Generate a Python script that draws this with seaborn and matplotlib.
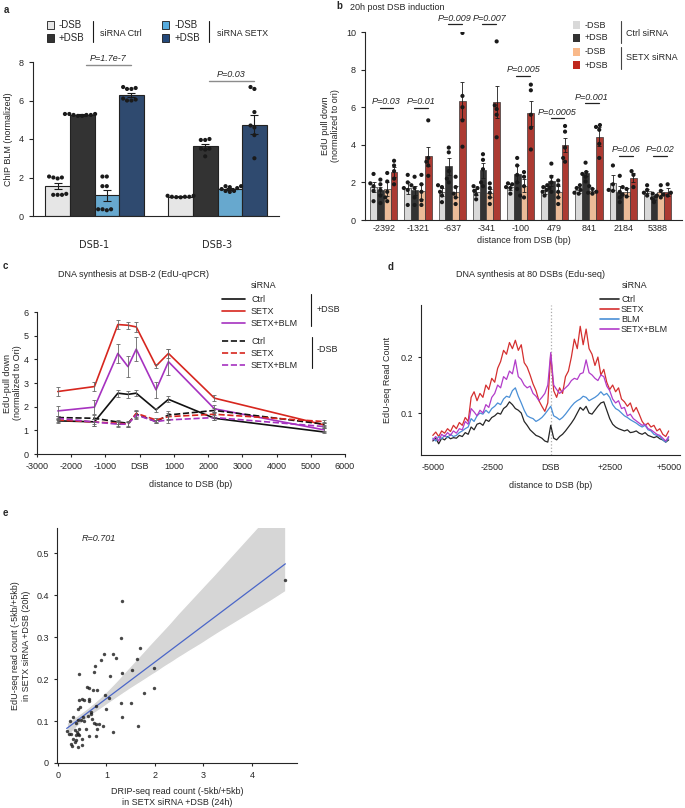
import numpy as np
import pandas as pd
import matplotlib
matplotlib.use('Agg')
import matplotlib.pyplot as plt
import seaborn as sns
from matplotlib.patches import Rectangle
from matplotlib.lines import Line2D
from matplotlib.collections import PolyCollection

sns.set_theme(style='ticks')
plt.rcParams['font.family'] = ['Liberation Sans', 'DejaVu Sans']
plt.rcParams['font.size'] = 6.5
plt.rcParams['axes.linewidth'] = 0.8
plt.rcParams['xtick.labelsize'] = 6.5
plt.rcParams['ytick.labelsize'] = 6.5
plt.rcParams['axes.labelsize'] = 6.5

# ---------------- panel a data
a_sites = ['DSB-1', 'DSB-3']
a_conds = ['Ctrl -DSB', 'Ctrl +DSB', 'SETX -DSB', 'SETX +DSB']
a_colors = ['#e6e6e6', '#333333', '#56acdf', '#24497a']
a_mean_dsb1 = [1.55, 5.25, 1.07, 6.3]
a_mean_dsb3 = [1.0, 3.62, 1.38, 4.75]
a_sem_dsb1 = [0.15, 0.05, 0.3, 0.1]
a_sem_dsb3 = [0.02, 0.12, 0.05, 0.5]
a_pts_dsb1 = [[2.0, 2.05, 1.95, 2.0, 1.1, 1.1, 1.15, 1.1],
              [5.3, 5.25, 5.3, 5.2, 5.25, 5.3, 5.2, 5.25],
              [2.05, 2.05, 1.55, 1.55, 0.35, 0.35, 0.3, 0.35],
              [6.6, 6.6, 6.65, 6.7, 6.1, 6.0, 6.0, 6.05]]
a_pts_dsb3 = [[1.05, 1.05, 1.0, 1.0, 0.98, 0.97, 1.0],
              [4.0, 3.95, 3.95, 3.5, 3.5, 3.45, 3.1],
              [1.55, 1.5, 1.45, 1.3, 1.25, 1.3, 1.4, 1.55],
              [6.6, 6.7, 5.4, 4.6, 4.7, 4.2, 3.0]]
a_pvals = ['P=1.7e-7', 'P=0.03']

# ---------------- panel b data
b_pos = ['-2392', '-1321', '-637', '-341', '-100', '479', '841', '2184', '5388']
b_conds = ['Ctrl -DSB', 'Ctrl +DSB', 'SETX -DSB', 'SETX +DSB']
b_colors = ['#d9d9d9', '#333333', '#f9b98a', '#c0281e']
b_ctrl_minus = [1.75, 1.7, 1.48, 1.5, 1.74, 1.6, 1.6, 1.99, 1.54]
b_ctrl_plus = [1.57, 1.57, 2.85, 2.64, 2.45, 2.1, 2.48, 1.5, 1.19]
b_setx_minus = [1.65, 1.53, 1.5, 1.43, 1.83, 1.5, 1.56, 1.5, 1.47]
b_setx_plus = [2.55, 3.39, 6.35, 6.3, 5.67, 3.99, 4.43, 2.25, 1.5]
b_sem_ctrl_minus = [0.25, 0.3, 0.2, 0.15, 0.15, 0.2, 0.15, 0.4, 0.1]
b_sem_ctrl_plus = [0.2, 0.25, 0.45, 0.4, 0.45, 0.3, 0.15, 0.3, 0.1]
b_sem_setx_minus = [0.35, 0.4, 0.3, 0.2, 0.35, 0.3, 0.15, 0.2, 0.15]
b_sem_setx_plus = [0.25, 0.5, 1.0, 0.85, 0.65, 0.35, 0.5, 0.25, 0.2]
b_pts_ctrl_minus = [[2.45, 1.95, 1.8, 1.55, 1.0], [2.4, 2.0, 1.7, 1.6, 0.8], [1.85, 1.75, 1.5, 1.3, 0.95],
                    [1.8, 1.7, 1.55, 1.35, 1.1], [1.95, 1.9, 1.75, 1.7, 1.4], [1.85, 1.75, 1.6, 1.5, 1.3],
                    [1.85, 1.7, 1.6, 1.45, 1.4], [2.9, 1.9, 1.6, 1.55], [1.85, 1.6, 1.45, 1.3]]
b_pts_ctrl_plus = [[2.15, 1.9, 1.6, 1.3, 0.9], [2.3, 1.85, 1.7, 1.2, 0.8], [3.85, 3.6, 2.6, 2.0, 2.2],
                   [3.5, 3.2, 2.7, 2.0, 1.8], [3.3, 2.9, 2.4, 2.0, 1.65], [3.0, 2.3, 2.0, 1.7, 1.5],
                   [3.05, 2.55, 2.45, 2.3, 2.05], [2.35, 1.5, 1.2, 0.95], [1.4, 1.25, 1.15, 0.95]]
b_pts_setx_minus = [[2.5, 2.05, 1.5, 1.2, 1.0], [2.4, 1.9, 1.5, 1.05, 0.8], [2.3, 1.75, 1.4, 1.2, 0.85],
                    [1.95, 1.7, 1.45, 1.2, 0.85], [2.55, 2.3, 1.8, 1.3, 1.2], [2.1, 1.85, 1.5, 1.2, 0.85],
                    [1.8, 1.65, 1.5, 1.45, 1.4], [1.75, 1.65, 1.35, 1.25], [1.85, 1.55, 1.3, 1.2]]
b_pts_setx_plus = [[3.15, 2.9, 2.6, 2.2, 1.9], [5.3, 3.3, 3.1, 2.9, 2.35], [9.95, 6.6, 6.0, 5.3, 3.9],
                   [9.5, 6.1, 5.9, 5.6, 4.4], [7.2, 6.9, 5.6, 4.9, 3.75], [5.0, 4.7, 3.85, 3.3, 3.1],
                   [5.05, 4.95, 4.8, 4.05, 3.3], [2.6, 2.4, 1.75], [1.9, 1.45, 1.35, 1.3]]
b_pvals = ['P=0.03', 'P=0.01', 'P=0.009', 'P=0.007', 'P=0.005', 'P=0.0005', 'P=0.001', 'P=0.06', 'P=0.02']

# ---------------- panel c data (EdU-qPCR)
c_dist = [-2392, -1321, -637, -341, -100, 479, 841, 2184, 5388]
c_ctrl_plus = [1.40, 1.36, 2.57, 2.52, 2.57, 1.87, 2.31, 1.51, 0.93]
c_setx_plus = [2.64, 2.85, 5.47, 5.44, 5.37, 3.72, 4.25, 2.36, 1.23]
c_setxblm_plus = [1.82, 1.98, 4.25, 3.69, 4.43, 2.71, 3.90, 1.91, 1.02]
c_ctrl_minus = [1.54, 1.51, 1.35, 1.30, 1.68, 1.37, 1.65, 1.84, 1.26]
c_setx_minus = [1.44, 1.35, 1.30, 1.26, 1.72, 1.44, 1.58, 1.68, 1.37]
c_setxblm_minus = [1.51, 1.35, 1.26, 1.26, 1.65, 1.37, 1.44, 1.54, 1.16]
c_err_ctrl_plus = [0.08, 0.1, 0.15, 0.15, 0.12, 0.08, 0.12, 0.06, 0.05]
c_err_setx_plus = [0.18, 0.18, 0.2, 0.15, 0.2, 0.1, 0.2, 0.12, 0.1]
c_err_setxblm_plus = [0.2, 0.3, 0.4, 0.45, 0.5, 0.35, 0.55, 0.15, 0.08]
c_err_minus = [0.08, 0.15, 0.1, 0.1, 0.15, 0.08, 0.15, 0.1, 0.08]

# ---------------- panel d data (EdU-seq, 125 bp bins)
d_bins = np.arange(-5000, 5001, 125)
d_ctrl = [0.050, 0.055, 0.045, 0.055, 0.052, 0.058, 0.054, 0.056, 0.055, 0.060, 0.058, 0.065, 0.062,
          0.075, 0.070, 0.080, 0.082, 0.078, 0.088, 0.085, 0.092, 0.095, 0.100, 0.098, 0.108,
          0.112, 0.120, 0.115, 0.108, 0.105, 0.100, 0.085, 0.078, 0.070, 0.065, 0.060, 0.058,
          0.055, 0.050, 0.048, 0.078, 0.055, 0.052, 0.058, 0.062, 0.068, 0.075, 0.082, 0.090,
          0.100, 0.110, 0.105, 0.112, 0.100, 0.098, 0.105, 0.112, 0.118, 0.120, 0.105, 0.090,
          0.080, 0.075, 0.072, 0.070, 0.068, 0.070, 0.065, 0.066, 0.068, 0.064, 0.062, 0.065,
          0.060, 0.058, 0.056, 0.058, 0.054, 0.052, 0.048, 0.052]
d_setx = [0.060, 0.066, 0.058, 0.068, 0.064, 0.072, 0.067, 0.078, 0.072, 0.083, 0.078, 0.092, 0.085,
          0.128, 0.138, 0.122, 0.135, 0.128, 0.150, 0.142, 0.162, 0.155, 0.180, 0.192, 0.212,
          0.205, 0.226, 0.215, 0.230, 0.212, 0.222, 0.190, 0.182, 0.168, 0.152, 0.140, 0.122,
          0.112, 0.103, 0.118, 0.205, 0.140, 0.128, 0.145, 0.135, 0.165, 0.175, 0.200, 0.232,
          0.215, 0.255, 0.222, 0.250, 0.215, 0.205, 0.185, 0.200, 0.168, 0.178, 0.155, 0.142,
          0.150, 0.138, 0.145, 0.125, 0.120, 0.112, 0.118, 0.102, 0.110, 0.098, 0.085, 0.078,
          0.082, 0.075, 0.078, 0.068, 0.072, 0.062, 0.058, 0.068]
d_blm = [0.055, 0.050, 0.058, 0.054, 0.060, 0.056, 0.062, 0.058, 0.060, 0.065, 0.068, 0.072, 0.075,
         0.090, 0.085, 0.095, 0.100, 0.098, 0.105, 0.100, 0.108, 0.112, 0.118, 0.115, 0.125,
         0.130, 0.128, 0.140, 0.145, 0.130, 0.118, 0.105, 0.095, 0.092, 0.090, 0.085, 0.088,
         0.092, 0.098, 0.105, 0.112, 0.095, 0.092, 0.088, 0.092, 0.098, 0.105, 0.112, 0.118,
         0.122, 0.125, 0.130, 0.128, 0.122, 0.125, 0.128, 0.132, 0.138, 0.132, 0.135, 0.128,
         0.115, 0.108, 0.105, 0.100, 0.095, 0.092, 0.088, 0.085, 0.082, 0.078, 0.075, 0.078,
         0.070, 0.068, 0.062, 0.060, 0.058, 0.052, 0.048, 0.056]
d_setxblm = [0.052, 0.058, 0.050, 0.062, 0.058, 0.065, 0.060, 0.068, 0.064, 0.072, 0.070, 0.085, 0.080,
             0.108, 0.102, 0.095, 0.105, 0.100, 0.115, 0.110, 0.128, 0.135, 0.150, 0.145, 0.165,
             0.160, 0.175, 0.170, 0.195, 0.165, 0.160, 0.150, 0.145, 0.148, 0.135, 0.130, 0.122,
             0.128, 0.135, 0.150, 0.208, 0.150, 0.142, 0.135, 0.140, 0.145, 0.150, 0.158, 0.162,
             0.160, 0.170, 0.172, 0.195, 0.172, 0.168, 0.162, 0.158, 0.168, 0.165, 0.148, 0.140,
             0.125, 0.118, 0.122, 0.108, 0.110, 0.095, 0.098, 0.090, 0.086, 0.082, 0.078, 0.080,
             0.072, 0.070, 0.066, 0.062, 0.060, 0.055, 0.050, 0.058]

# ---------------- panel e data (per DSB)
e_drip = [1.33, 4.69, 1.29, 0.94, 1.13, 1.19, 1.69, 0.88, 1.62, 0.76, 0.44, 0.74, 1.08, 1.32, 1.53,
          1.98, 0.59, 0.63, 0.72, 0.80, 1.98, 1.78, 0.98, 1.06, 0.50, 0.54, 0.44, 0.65, 0.65, 0.46,
          0.42, 0.78, 1.29, 1.50, 0.99, 0.68, 0.69, 0.51, 0.31, 0.41, 0.25, 0.48, 0.54, 0.38, 0.70,
          0.61, 0.74, 0.78, 0.85, 0.92, 1.33, 1.66, 0.57, 0.80, 0.18, 0.27, 0.35, 0.44, 0.40, 1.14,
          0.42, 0.38, 0.44, 0.23, 0.65, 0.78, 0.32, 0.38, 0.27, 0.29, 0.50, 0.36, 0.42, 0.49]
e_edu = [0.385, 0.437, 0.298, 0.260, 0.260, 0.250, 0.273, 0.246, 0.249, 0.230, 0.213, 0.216, 0.208,
         0.215, 0.222, 0.227, 0.180, 0.178, 0.175, 0.174, 0.178, 0.168, 0.162, 0.155, 0.153, 0.150,
         0.149, 0.153, 0.147, 0.134, 0.129, 0.137, 0.143, 0.142, 0.128, 0.121, 0.117, 0.109, 0.109,
         0.103, 0.099, 0.102, 0.100, 0.096, 0.106, 0.113, 0.095, 0.094, 0.092, 0.088, 0.109, 0.088,
         0.082, 0.082, 0.076, 0.070, 0.078, 0.080, 0.074, 0.074, 0.068, 0.066, 0.066, 0.068, 0.064,
         0.064, 0.057, 0.056, 0.045, 0.041, 0.044, 0.050, 0.037, 0.058]

W, H = 685, 808
fig = plt.figure(figsize=(6.85, 8.08), dpi=100)


def rect(x0, y0, x1, y1):
    return [x0 / W, 1 - y1 / H, (x1 - x0) / W, (y1 - y0) / H]


def fx(x):
    return x / W


def fy(y):
    return 1 - y / H


def ftext(x, y, s, **kw):
    kw.setdefault('va', 'center')
    fig.text(fx(x), fy(y), s, **kw)


def fsquare(x, y, color, edge='none'):
    fig.add_artist(Rectangle((fx(x - 3.5), fy(y + 3.5)), 7 / W, 7 / H, transform=fig.transFigure,
                             facecolor=color, edgecolor=edge, lw=0.6))


def fline(x0, y0, x1, y1, **kw):
    fig.add_artist(Line2D([fx(x0), fx(x1)], [fy(y0), fy(y1)], transform=fig.transFigure, **kw))


offsets = [-0.3, -0.1, 0.1, 0.3]

# ================= panel a
ax_a = fig.add_axes(rect(33, 62, 279, 216))
df_a = pd.DataFrame({'site': np.repeat(a_sites, 4), 'cond': a_conds * 2,
                     'val': a_mean_dsb1 + a_mean_dsb3})
sns.barplot(data=df_a, x='site', y='val', hue='cond', order=a_sites, hue_order=a_conds,
            palette=a_colors, errorbar=None, edgecolor='#222222', linewidth=0.8,
            legend=False, ax=ax_a)
for i, (means, sems) in enumerate([(a_mean_dsb1, a_sem_dsb1), (a_mean_dsb3, a_sem_dsb3)]):
    ax_a.errorbar([i + o for o in offsets], means, yerr=sems, fmt='none', ecolor='k',
                  elinewidth=0.8, capsize=3, capthick=0.8, zorder=3)
pts_a = pd.DataFrame([(s, c, v) for s, pts in zip(a_sites, [a_pts_dsb1, a_pts_dsb3])
                      for c, vals in zip(a_conds, pts) for v in vals], columns=['site', 'cond', 'val'])
sns.swarmplot(data=pts_a, x='site', y='val', hue='cond', order=a_sites, hue_order=a_conds,
              dodge=True, palette=['k'] * 4, size=3.0, legend=False, ax=ax_a, zorder=4,
              warn_thresh=1)
ax_a.set_xlim(-0.5, 1.5)
ax_a.set_ylim(0, 8)
ax_a.set_yticks([0, 2, 4, 6, 8])
ax_a.set_xlabel('')
ax_a.set_ylabel('ChIP BLM (normalized)')
ax_a.tick_params(axis='x', length=0, pad=17)
ax_a.tick_params(axis='y', length=3, width=0.8)
for lab in ax_a.get_xticklabels():
    lab.set_fontfamily('DejaVu Sans')
    lab.set_fontsize(7)
sns.despine(ax=ax_a)
for i, (txt, h) in enumerate(zip(a_pvals, [7.85, 7.0])):
    ax_a.plot([i - 0.07, i + 0.3], [h, h], color='#8c8c8c', lw=1.0, clip_on=False)
    ax_a.text(i + 0.11, h + 0.12, txt, ha='center', va='bottom', style='italic', fontsize=6.5)

ftext(4, 10, 'a', fontweight='bold', fontsize=7)
fsquare(50, 25, a_colors[0], 'k')
fsquare(50, 38, a_colors[1], 'k')
ftext(59, 25, '-DSB', fontsize=7)
ftext(59, 38, '+DSB', fontsize=7)
fline(93, 21, 93, 42, color='k', lw=0.8)
ftext(100, 33, 'siRNA Ctrl', fontsize=6.5)
fsquare(165, 25, a_colors[2], 'k')
fsquare(165, 38, a_colors[3], 'k')
ftext(175, 25, '-DSB', fontsize=7)
ftext(175, 38, '+DSB', fontsize=7)
fline(209, 21, 209, 42, color='k', lw=0.8)
ftext(217, 33, 'siRNA SETX', fontsize=6.5)

# ================= panel b
ax_b = fig.add_axes(rect(365, 32, 682, 220))
b_means = [b_ctrl_minus, b_ctrl_plus, b_setx_minus, b_setx_plus]
b_sems = [b_sem_ctrl_minus, b_sem_ctrl_plus, b_sem_setx_minus, b_sem_setx_plus]
b_pts = [b_pts_ctrl_minus, b_pts_ctrl_plus, b_pts_setx_minus, b_pts_setx_plus]
df_b = pd.DataFrame([(p, c, m[k]) for c, m in zip(b_conds, b_means) for k, p in enumerate(b_pos)],
                    columns=['pos', 'cond', 'val'])
sns.barplot(data=df_b, x='pos', y='val', hue='cond', order=b_pos, hue_order=b_conds,
            palette=b_colors, errorbar=None, edgecolor='#3a3a3a', linewidth=0.5,
            legend=False, ax=ax_b)
for j, (m, s) in enumerate(zip(b_means, b_sems)):
    ax_b.errorbar([k + offsets[j] for k in range(len(b_pos))], m, yerr=s, fmt='none', ecolor='k',
                  elinewidth=0.6, capsize=1.3, capthick=0.6, zorder=3)
pts_b = pd.DataFrame([(p, c, v) for c, pts in zip(b_conds, b_pts) for p, vals in zip(b_pos, pts)
                      for v in vals], columns=['pos', 'cond', 'val'])
sns.swarmplot(data=pts_b, x='pos', y='val', hue='cond', order=b_pos, hue_order=b_conds,
              dodge=True, palette=['k'] * 4, size=3.0, legend=False, ax=ax_b, zorder=4,
              warn_thresh=1)
ax_b.set_xlim(-0.55, 8.72)
ax_b.set_ylim(0, 10)
ax_b.set_yticks([0, 2, 4, 6, 8, 10])
ax_b.set_xlabel('distance from DSB (bp)', labelpad=2)
ax_b.set_ylabel('EdU pull down\n(normalized to ori)')
ax_b.tick_params(axis='x', length=0, pad=3)
ax_b.tick_params(axis='y', length=3, width=0.8)
sns.despine(ax=ax_b)
for k, (txt, h) in enumerate(zip(b_pvals, [5.96, 5.96, 10.4, 10.4, 7.65, 5.4, 6.2, 3.4, 3.4])):
    ax_b.plot([k - 0.12, k + 0.28], [h, h], color='#222222', lw=0.9, clip_on=False)
    ax_b.text(k + 0.08, h + 0.1, txt, ha='center', va='bottom', style='italic', fontsize=6.5,
              clip_on=False)

ftext(336, 6, 'b', fontweight='bold', fontsize=7)
ftext(350, 7, '20h post DSB induction', fontsize=6.5)
for yy, col, lab in zip([25, 38, 52, 65], b_colors, ['-DSB', '+DSB', '-DSB', '+DSB']):
    fsquare(576, yy, col)
    ftext(585, yy, lab, fontsize=6.5)
fline(621, 21, 621, 43, color='#444444', lw=0.8)
fline(621, 47, 621, 69, color='#444444', lw=0.8)
ftext(626, 33, 'Ctrl siRNA', fontsize=6.5)
ftext(626, 57, 'SETX siRNA', fontsize=6.5)

# ================= panel c
ax_c = fig.add_axes(rect(37, 312, 345, 454))
c_series = [(c_ctrl_plus, c_err_ctrl_plus, '#111111', '-'),
            (c_setx_plus, c_err_setx_plus, '#d7261e', '-'),
            (c_setxblm_plus, c_err_setxblm_plus, '#a632c0', '-'),
            (c_ctrl_minus, c_err_minus, '#111111', '--'),
            (c_setx_minus, c_err_minus, '#d7261e', '--'),
            (c_setxblm_minus, c_err_minus, '#a632c0', '--')]
for vals, errs, col, ls in c_series:
    sns.lineplot(x=c_dist, y=vals, color=col, linestyle=ls, lw=1.2, ax=ax_c)
    ax_c.errorbar(c_dist, vals, yerr=errs, fmt='none', ecolor='#666666', elinewidth=0.6,
                  capsize=1.5, capthick=0.6, zorder=3)
ax_c.set_xlim(-3000, 6000)
ax_c.set_ylim(0, 6)
ax_c.set_xticks(list(range(-3000, 6001, 1000)))
ax_c.set_xticklabels(['-3000', '-2000', '-1000', 'DSB', '1000', '2000', '3000', '4000', '5000', '6000'])
ax_c.set_yticks(range(0, 7))
ax_c.set_xlabel('distance to DSB (bp)', labelpad=6)
ax_c.set_ylabel('EdU-pull down\n(normalized to Ori)', labelpad=1)
ax_c.tick_params(length=2.5, width=0.8)
sns.despine(ax=ax_c)

ftext(3, 266, 'c', fontweight='bold', fontsize=7)
ftext(134, 274, 'DNA synthesis at DSB-2 (EdU-qPCR)', ha='center', fontsize=6.5)
ftext(251, 286, 'siRNA', fontsize=6.5)
for yy, col, ls, lab in zip([299, 311, 323, 341, 353, 365],
                            ['#111111', '#d7261e', '#a632c0'] * 2,
                            ['-'] * 3 + ['--'] * 3,
                            ['Ctrl', 'SETX', 'SETX+BLM'] * 2):
    fline(222, yy, 245, yy, color=col, ls=ls, lw=1.2)
    ftext(251, yy, lab, fontsize=6.5)
fline(311, 294, 311, 326, color='k', lw=0.8)
fline(312, 337, 312, 368, color='k', lw=0.8)
ftext(317, 309, '+DSB', fontsize=6.5)
ftext(317, 349, '-DSB', fontsize=6.5)

# ================= panel d
ax_d = fig.add_axes(rect(421, 305, 680, 455))
d_series = [('Ctrl', d_ctrl, '#262626'), ('SETX', d_setx, '#d42f2f'),
            ('BLM', d_blm, '#4a8fd6'), ('SETX+BLM', d_setxblm, '#b23cc9')]
for name, vals, col in d_series:
    sns.lineplot(x=d_bins, y=vals, color=col, lw=0.9, ax=ax_d)
ax_d.axvline(0, color='#aaaaaa', ls=':', lw=0.9, zorder=0)
ax_d.set_xlim(-5500, 5480)
ax_d.set_ylim(0.025, 0.293)
ax_d.set_xticks([-5000, -2500, 0, 2500, 5000])
ax_d.set_xticklabels(['-5000', '-2500', 'DSB', '+2500', '+5000'])
ax_d.set_yticks([0.1, 0.2])
ax_d.set_xlabel('distance to DSB (bp)', labelpad=6)
ax_d.set_ylabel('EdU-seq Read Count', labelpad=6)
ax_d.tick_params(axis='x', length=0, pad=6)
ax_d.tick_params(axis='y', length=2.5, width=0.8)
sns.despine(ax=ax_d)

ftext(388, 267, 'd', fontweight='bold', fontsize=7)
ftext(531, 274, 'DNA synthesis at 80 DSBs (Edu-seq)', ha='center', fontsize=6.5)
ftext(622, 285, 'siRNA', fontsize=6.5)
for yy, (name, vals, col) in zip([299, 309, 319, 329], d_series):
    fline(600, yy, 619, yy, color=col, lw=1.2)
    ftext(621, yy, name, fontsize=6.5)

# ================= panel e
ax_e = fig.add_axes(rect(57, 528, 297, 763))
sns.regplot(x=e_drip, y=e_edu, ci=95, seed=0, ax=ax_e,
            scatter_kws=dict(s=6, color='k', zorder=3, linewidths=0),
            line_kws=dict(color='#4a66c8', lw=0.9, zorder=2))
for coll in ax_e.collections:
    if isinstance(coll, PolyCollection):
        coll.set_facecolor('#d6d6d6')
        coll.set_alpha(1)
        coll.set_zorder(1)
ax_e.set_xlim(-0.02, 4.93)
ax_e.set_ylim(0.012, 0.56)
ax_e.set_xticks([0, 1, 2, 3, 4])
ax_e.set_yticks([0, 0.1, 0.2, 0.3, 0.4, 0.5])
ax_e.set_yticklabels(['0', '0.1', '0.2', '0.3', '0.4', '0.5'])
ax_e.set_xlabel('DRIP-seq read count (-5kb/+5kb)\nin SETX siRNA +DSB (24h)', labelpad=5)
ax_e.set_ylabel('EdU-seq read count (-5kb/+5kb)\nin SETX siRNA +DSB (20h)', labelpad=4)
ax_e.tick_params(length=2.5, width=0.8)
sns.despine(ax=ax_e)
ax_e.text(0.5, 0.535, 'R=0.701', style='italic', fontsize=6.5, va='center')

ftext(3, 513, 'e', fontweight='bold', fontsize=7)

fig.savefig('out.png', dpi=100)
